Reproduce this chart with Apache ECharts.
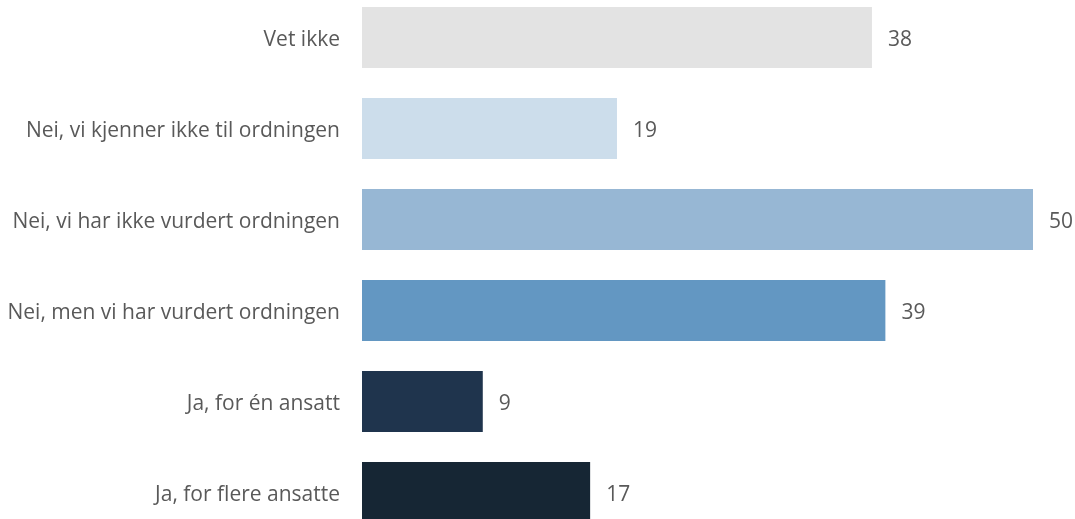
<!DOCTYPE html>
<html>
<head>
<meta charset="utf-8">
<script src="https://cdn.jsdelivr.net/npm/echarts@6/dist/echarts.min.js"></script>
<style>
  html, body { margin: 0; padding: 0; background: #ffffff; overflow: hidden; width: 1075px; height: 519px; }
  /* the plot runs slightly past the top and bottom edges of the page */
  #chart { width: 1075px; height: 546px; margin-top: -8px; }
</style>
</head>
<body>
<div id="chart"></div>
<script>
// Survey answers, listed top to bottom
const categories = [
  'Vet ikke',
  'Nei, vi kjenner ikke til ordningen',
  'Nei, vi har ikke vurdert ordningen',
  'Nei, men vi har vurdert ordningen',
  'Ja, for én ansatt',
  'Ja, for flere ansatte'
];
const values = [38, 19, 50, 39, 9, 17];
const barColors = ['#E3E3E3', '#CCDDEB', '#97B7D4', '#6397C2', '#1F344D', '#162634'];

const FONT = 'Open Sans';
const TEXT = '#595959';

const chart = echarts.init(document.getElementById('chart'), null, { renderer: 'canvas' });

chart.setOption({
  animation: false,
  grid: { left: 362, right: 42, top: 0, bottom: 0, containLabel: false },
  xAxis: {
    type: 'value',
    min: 0,
    max: 50,
    show: false
  },
  yAxis: {
    type: 'category',
    inverse: true,
    data: categories,
    axisLine: { show: false },
    axisTick: { show: false },
    axisLabel: {
      margin: 22,
      color: TEXT,
      fontFamily: FONT,
      fontSize: 21,
      verticalAlign: 'top',
      lineHeight: 24,
      padding: [-9, 0, 0, 0]
    }
  },
  series: [{
    type: 'bar',
    barWidth: 61,
    data: values.map((v, i) => ({ value: v, itemStyle: { color: barColors[i] } })),
    label: {
      show: true,
      position: 'right',
      distance: 16,
      offset: [0, 3],
      color: TEXT,
      fontFamily: FONT,
      fontSize: 21
    }
  }]
});
</script>
</body>
</html>
